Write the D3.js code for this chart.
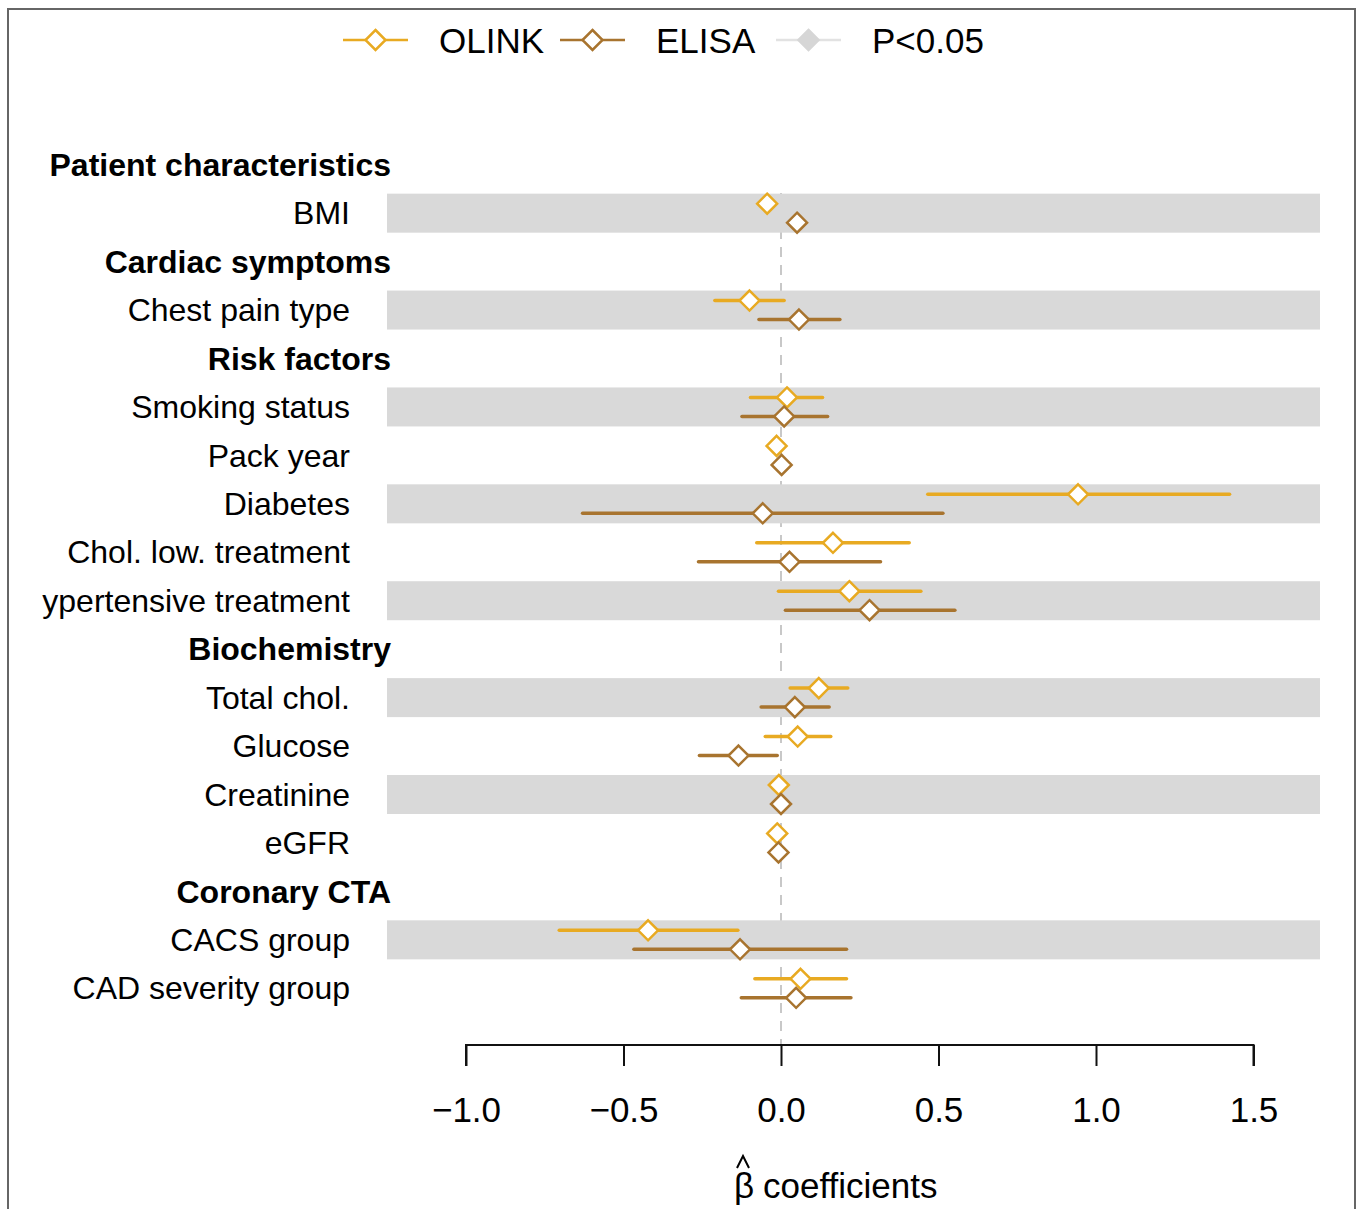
<!DOCTYPE html>
<html>
<head>
<meta charset="utf-8">
<script src="https://cdn.jsdelivr.net/npm/d3@7/dist/d3.min.js"></script>
<style>
  body { margin: 0; background: #fff; }
  text { font-family: "Liberation Sans", Arial, sans-serif; }
</style>
</head>
<body>
<div id="chart"></div>
<script>
// forest plot: beta coefficients, OLINK vs ELISA

// rows, top to bottom ("h" = group header)
var rowLabels = ["Patient characteristics","BMI","Cardiac symptoms","Chest pain type","Risk factors",
                 "Smoking status","Pack year","Diabetes","Chol. low. treatment","ypertensive treatment",
                 "Biochemistry","Total chol.","Glucose","Creatinine","eGFR","Coronary CTA",
                 "CACS group","CAD severity group"]
var rowType = ["h","v","h","v","h","v","v","v","v","v","h","v","v","v","v","h","v","v"]
var banded  = [0,1,0,1,0,1,0,1,0,1,0,1,0,1,0,0,1,0]

// estimates (null for headers), lower / upper CI
var olinkEst = [null,-0.044,null,-0.10,null,0.019,-0.014,0.943,0.165,0.217,null,0.120,0.053,-0.007,-0.012,null,-0.422,0.062]
var olinkLo  = [null,-0.06,null,-0.21,null,-0.097,-0.02,0.466,-0.077,-0.008,null,0.029,-0.05,-0.01,-0.015,null,-0.704,-0.083]
var olinkHi  = [null,-0.03,null,0.01,null,0.132,-0.008,1.424,0.407,0.444,null,0.212,0.158,-0.004,-0.009,null,-0.137,0.208]
var elisaEst = [null,0.051,null,0.057,null,0.01,0.002,-0.058,0.027,0.281,null,0.044,-0.135,0.0,-0.008,null,-0.13,0.048]
var elisaLo  = [null,0.04,null,-0.07,null,-0.124,-0.004,-0.63,-0.262,0.014,null,-0.063,-0.259,-0.004,-0.012,null,-0.467,-0.126]
var elisaHi  = [null,0.06,null,0.187,null,0.148,0.008,0.514,0.316,0.552,null,0.153,-0.012,0.004,-0.004,null,0.208,0.222]

var xTicks = [-1.0,-0.5,0.0,0.5,1.0,1.5]

var width = 1358, height = 1209
var olinkCol = "#E8AA22", elisaCol = "#A8742F"

var svg = d3.select("#chart")
    .append("svg")
    .attr("width", width)
    .attr("height", height)

// frame (open at the bottom)
svg.append("path")
    .attr("d", "M8,1209 L8,9 L1355,9 L1355,1209")
    .attr("fill", "none")
    .attr("stroke", "#666")
    .attr("stroke-width", 2)

var x = d3.scaleLinear()
    .domain([-1, 1.5])
    .range([466, 1253.5])

var y = d3.scaleBand()
    .domain(d3.range(rowLabels.length))
    .range([140.5, 1012.5])

var rowH = y.bandwidth()

// zero reference line
svg.append("line")
    .attr("x1", x(0)).attr("x2", x(0))
    .attr("y1", 193).attr("y2", 1045)
    .attr("stroke", "#c8c8c8")
    .attr("stroke-width", 2)
    .attr("stroke-dasharray", "10,8")

// gray bands over the zero line
svg.append("g")
    .selectAll("rect")
    .data(d3.range(rowLabels.length).filter(function(i) { return banded[i] }))
    .enter().append("rect")
        .attr("x", 387)
        .attr("width", 1320 - 387)
        .attr("y", function(i) { return y(i) + rowH/2 - 19.5 })
        .attr("height", 39)
        .attr("fill", "#d9d9d9")

// row labels
svg.append("g")
    .selectAll("text")
    .data(rowLabels)
    .enter().append("text")
        .attr("x", function(d, i) { return rowType[i] == "h" ? 391 : 350 })
        .attr("y", function(d, i) { return y(i) + rowH/2 })
        .attr("dy", "0.35em")
        .attr("text-anchor", "end")
        .style("font-size", "32px")
        .style("font-weight", function(d, i) { return rowType[i] == "h" ? "bold" : "normal" })
        .text(function(d) { return d })

// series
var series = [
    {est: olinkEst, lo: olinkLo, hi: olinkHi, col: olinkCol, off: -9.5},
    {est: elisaEst, lo: elisaLo, hi: elisaHi, col: elisaCol, off: 9.5}
]

var diamond = "M0,-10 L10,0 L0,10 L-10,0 Z"

series.forEach(function(s) {
    var idx = d3.range(rowLabels.length).filter(function(i) { return s.est[i] !== null })
    var g = svg.append("g")
    g.selectAll("line")
        .data(idx)
        .enter().append("line")
            .attr("x1", function(i) { return x(s.lo[i]) })
            .attr("x2", function(i) { return x(s.hi[i]) })
            .attr("y1", function(i) { return y(i) + rowH/2 + s.off })
            .attr("y2", function(i) { return y(i) + rowH/2 + s.off })
            .attr("stroke", s.col)
            .attr("stroke-width", 3.5)
            .attr("stroke-linecap", "round")
    g.selectAll("path")
        .data(idx)
        .enter().append("path")
            .attr("d", diamond)
            .attr("transform", function(i) { return `translate(${x(s.est[i])},${y(i) + rowH/2 + s.off})` })
            .attr("fill", "#fff")
            .attr("stroke", s.col)
            .attr("stroke-width", 2.5)
})

// x-axis
var axis = svg.append("g")
    .attr("transform", "translate(0,1045)")
    .call(d3.axisBottom(x).tickValues(xTicks).tickSize(21).tickPadding(31)
        .tickFormat(function(d) { return d3.format(".1f")(d).replace("-", "\u2212") }))
axis.select(".domain")
    .attr("d", `M${x(-1)},21V0H${x(1.5)}V21`)
    .attr("stroke", "#111")
    .attr("stroke-width", 2)
axis.selectAll(".tick line")
    .attr("stroke", "#111")
    .attr("stroke-width", 2)
axis.selectAll(".tick text")
    .style("font-size", "35px")
    .style("font-family", "'Liberation Sans', Arial, sans-serif")
    .attr("fill", "#000")

// x-axis title: beta with a hat drawn as a small stroke
svg.append("text")
    .attr("x", 744)
    .attr("y", 1198)
    .attr("text-anchor", "middle")
    .style("font-size", "35px")
    .text("\u03B2")
svg.append("path")
    .attr("d", "M737,1168 L743,1156 L749,1168")
    .attr("fill", "none")
    .attr("stroke", "#000")
    .attr("stroke-width", 2)
svg.append("text")
    .attr("x", 763)
    .attr("y", 1198)
    .style("font-size", "35px")
    .text("coefficients")

// legend
var legItems = ["OLINK","ELISA","P<0.05"]
var legCols = [olinkCol, elisaCol, "#d6d6d6"]
var legX = [343, 560, 776]
var leg = svg.append("g")
legItems.forEach(function(name, i) {
    leg.append("line")
        .attr("x1", legX[i]).attr("x2", legX[i] + 65)
        .attr("y1", 40).attr("y2", 40)
        .attr("stroke", i == 2 ? "#e2e2e2" : legCols[i])
        .attr("stroke-width", 2.5)
    leg.append("path")
        .attr("d", diamond)
        .attr("transform", `translate(${legX[i] + 32.5},40)`)
        .attr("fill", i == 2 ? legCols[i] : "#fff")
        .attr("stroke", legCols[i])
        .attr("stroke-width", 2.5)
    leg.append("text")
        .attr("x", legX[i] + 96)
        .attr("y", 40)
        .attr("dy", "0.36em")
        .style("font-size", "35px")
        .text(name)
})
</script>
</body>
</html>
